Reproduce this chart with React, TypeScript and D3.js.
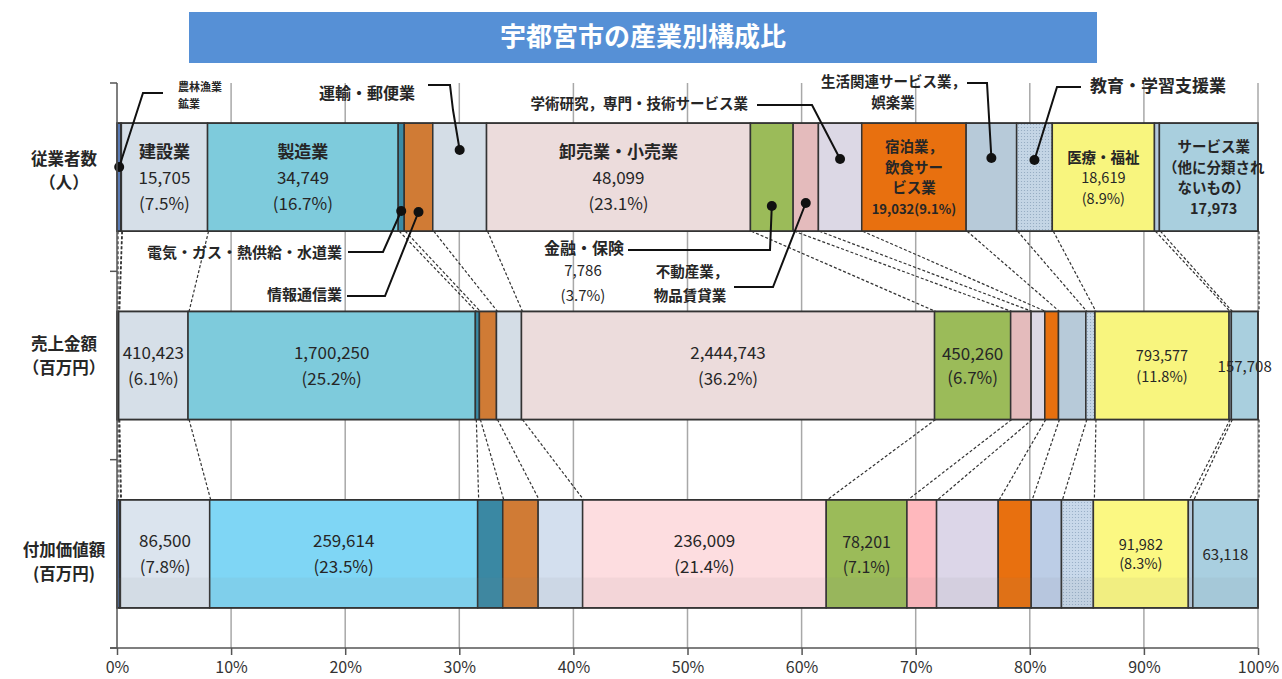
import { useEffect, useRef } from "react"
import * as d3 from "d3"

// industry categories (bar segment order, left to right)
const industries = [
  "農林漁業",
  "鉱業",
  "建設業",
  "製造業",
  "電気・ガス・熱供給・水道業",
  "情報通信業",
  "運輸業，郵便業",
  "卸売業，小売業",
  "金融業，保険業",
  "不動産業，物品賃貸業",
  "学術研究，専門・技術サービス業",
  "宿泊業，飲食サービス業",
  "生活関連サービス業，娯楽業",
  "教育，学習支援業",
  "医療，福祉",
  "複合サービス事業",
  "サービス業（他に分類されないもの）",
]

const rows = ["従業者数", "売上金額", "付加価値額"]
const rowUnits = ["（人）", "（百万円）", "(百万円)"]

// 従業者数（人）
const employees = [700, 100, 15705, 34749, 1100, 5200, 9800, 48099, 7786, 4600, 7900, 19032, 9200, 6500, 18619, 900, 17973]
// 売上金額（百万円）
const sales = [6000, 4000, 410423, 1700250, 24000, 101000, 148000, 2444743, 450260, 121000, 81000, 81000, 162000, 54000, 793577, 13500, 157708]
// 付加価値額（百万円）
const valueAdded = [2500, 800, 86500, 259614, 24300, 34300, 43100, 236009, 78201, 28700, 59700, 32000, 29300, 30900, 91982, 4400, 63118]

const xTicks = [0, 0.1, 0.2, 0.3, 0.4, 0.5, 0.6, 0.7, 0.8, 0.9, 1]

// printed shares
const employeeShares = { 2: "(7.5%)", 3: "(16.7%)", 7: "(23.1%)", 8: "(3.7%)", 11: "(9.1%)", 14: "(8.9%)" }
const salesShares = { 2: "(6.1%)", 3: "(25.2%)", 7: "(36.2%)", 8: "(6.7%)", 14: "(11.8%)" }
const valueShares = { 2: "(7.8%)", 3: "(23.5%)", 7: "(21.4%)", 8: "(7.1%)", 14: "(8.3%)" }

const colors = [
  "#5a7bb5", "#2d4a6d", "#d6dfe8", "#7ecbdc", "#3b8aa5", "#d07b35", "#d4dde6", "#ecdcdc",
  "#9bbb59", "#e4bbbc", "#dcd8e5", "#e8700f", "#b7cad9", "url(#dots)", "#f8f57e", "#b4c8dc", "#a9cfde",
]
const bottomColors = [
  "#5a7bb5", "#2d4a6d", "#dbe4ee", "#7fd6f5", "#3a88a3", "#d07b35", "#d3dfee", "#fddde0",
  "#9bbb59", "#ffb8bd", "#dcd6e8", "#e8700f", "#bccde6", "url(#dots2)", "#fbf882", "#b4c8dc", "#a9cfe0",
]

const W = 1282
const H = 679
const FONT = "'Noto Sans CJK JP', 'Noto Sans', sans-serif"
const fmt = d3.format(",")

const x = d3.scaleLinear().domain([0, 1]).range([117, 1258])
const y = d3.scaleBand<string>().domain(rows).range([83, 648]).paddingInner(0.426).paddingOuter(0.213)

const series = [employees, sales, valueAdded]
const segments = series.map((vals) => {
  const total = d3.sum(vals)
  let acc = 0
  return vals.map((v, i) => {
    const x0 = acc / total
    acc += v
    return { i, x0, x1: acc / total }
  })
})

type InLabel = { cat: number; lines: string[]; size: number; lh: number; bold: number; dx?: number }

const insideLabels: InLabel[][] = [
  [
    { cat: 2, lines: ["建設業", fmt(employees[2]), employeeShares[2]], size: 17, lh: 26, bold: 1 },
    { cat: 3, lines: ["製造業", fmt(employees[3]), employeeShares[3]], size: 17, lh: 26, bold: 1 },
    { cat: 7, lines: ["卸売業・小売業", fmt(employees[7]), employeeShares[7]], size: 17, lh: 26, bold: 1 },
    { cat: 11, lines: ["宿泊業，", "飲食サー", "ビス業", fmt(employees[11]) + employeeShares[11]], size: 14.5, lh: 20.7, bold: 4 },
    { cat: 14, lines: ["医療・福祉", fmt(employees[14]), employeeShares[14]], size: 14.5, lh: 20.5, bold: 1 },
    { cat: 16, lines: ["サービス業", "（他に分類され", "ないもの）", fmt(employees[16])], size: 14.5, lh: 20.7, bold: 4, dx: 5 },
  ],
  [
    { cat: 2, lines: [fmt(sales[2]), salesShares[2]], size: 17, lh: 26, bold: 0 },
    { cat: 3, lines: [fmt(sales[3]), salesShares[3]], size: 17, lh: 26, bold: 0 },
    { cat: 7, lines: [fmt(sales[7]), salesShares[7]], size: 17, lh: 26, bold: 0 },
    { cat: 8, lines: [fmt(sales[8]), salesShares[8]], size: 17, lh: 24, bold: 0 },
    { cat: 14, lines: [fmt(sales[14]), salesShares[14]], size: 14.5, lh: 21, bold: 0 },
    { cat: 16, lines: [fmt(sales[16])], size: 15, lh: 20, bold: 0 },
  ],
  [
    { cat: 2, lines: [fmt(valueAdded[2]), valueShares[2]], size: 17, lh: 26, bold: 0 },
    { cat: 3, lines: [fmt(valueAdded[3]), valueShares[3]], size: 17, lh: 26, bold: 0 },
    { cat: 7, lines: [fmt(valueAdded[7]), valueShares[7]], size: 17, lh: 26, bold: 0 },
    { cat: 8, lines: [fmt(valueAdded[8]), valueShares[8]], size: 16, lh: 25, bold: 0 },
    { cat: 14, lines: [fmt(valueAdded[14]), valueShares[14]], size: 14.5, lh: 19, bold: 0 },
    { cat: 16, lines: [fmt(valueAdded[16])], size: 15, lh: 20, bold: 0 },
  ],
]

// callouts pointing into the 従業者数 bar
type Callout = {
  cats: number[]
  dotY: number
  path: [number, number][]
  texts: { t: string; x: number; y: number; anchor: string; bold?: boolean }[]
  size: number
}
const callouts: Callout[] = [
  {
    cats: [0, 1], dotY: 167, path: [[163, 93], [143, 93]], size: 11,
    texts: [{ t: "農林漁業", x: 178, y: 88, anchor: "start" }, { t: "鉱業", x: 178, y: 105, anchor: "start" }],
  },
  {
    cats: [6], dotY: 150, path: [[428, 85], [450, 85], [453, 110]], size: 16,
    texts: [{ t: "運輸・郵便業", x: 415, y: 95, anchor: "end" }],
  },
  {
    cats: [4], dotY: 211, path: [[348, 252], [383, 252]], size: 15,
    texts: [{ t: "電気・ガス・熱供給・水道業", x: 342, y: 254, anchor: "end" }],
  },
  {
    cats: [5], dotY: 212, path: [[347, 296], [385, 296]], size: 15,
    texts: [{ t: "情報通信業", x: 342, y: 296, anchor: "end" }],
  },
  {
    cats: [10], dotY: 159, path: [[757, 105], [812, 105]], size: 14.5,
    texts: [{ t: "学術研究，専門・技術サービス業", x: 748, y: 105, anchor: "end" }],
  },
  {
    cats: [8], dotY: 206, path: [[628, 250], [770, 250]], size: 16,
    texts: [
      { t: "金融・保険", x: 624, y: 250, anchor: "end" },
      { t: fmt(employees[8]), x: 583, y: 272, anchor: "middle", bold: false },
      { t: employeeShares[8], x: 583, y: 297, anchor: "middle", bold: false },
    ],
  },
  {
    cats: [9], dotY: 203, path: [[734, 287], [773, 287]], size: 14.5,
    texts: [
      { t: "不動産業，", x: 692, y: 273, anchor: "middle" },
      { t: "物品賃貸業", x: 690, y: 297, anchor: "middle" },
    ],
  },
  {
    cats: [12], dotY: 158, path: [[967, 83], [987, 83]], size: 14.5,
    texts: [
      { t: "生活関連サービス業，", x: 966, y: 83, anchor: "end" },
      { t: "娯楽業", x: 893, y: 104, anchor: "middle" },
    ],
  },
  {
    cats: [13], dotY: 160, path: [[1081, 87], [1057, 87]], size: 17,
    texts: [{ t: "教育・学習支援業", x: 1090, y: 87, anchor: "start" }],
  },
]

const rowLabelShift = [-5, -8, 10]

export default function App() {
  const xAxisRef = useRef<SVGGElement>(null)

  useEffect(() => {
    if (!xAxisRef.current) return
    const g = d3.select(xAxisRef.current)
    g.selectAll("*").remove()
    g.call(
      d3
        .axisBottom(x)
        .tickValues(xTicks)
        .tickSize(7)
        .tickSizeOuter(0)
        .tickPadding(7)
        .tickFormat(d3.format(".0%")),
    )
    g.select(".domain").remove()
    g.selectAll(".tick line").attr("stroke", "#555").attr("stroke-width", 1.5)
    g.selectAll("text").attr("font-size", 16).attr("fill", "#333").attr("font-family", FONT)
  }, [])

  const bw = y.bandwidth()
  const step = y.step()
  const bandEdges = d3.range(4).map((k) => 83 + k * step)

  return (
    <svg width={W} height={H} style={{ position: "absolute", left: 0, top: 0, background: "#fff" }} fontFamily={FONT}>
      <defs>
        <pattern id="dots" width="3" height="3" patternUnits="userSpaceOnUse">
          <rect width="3" height="3" fill="#c4d5e5" />
          <circle cx="1.5" cy="1.5" r="0.6" fill="#8fa6bd" />
        </pattern>
        <pattern id="dots2" width="3" height="3" patternUnits="userSpaceOnUse">
          <rect width="3" height="3" fill="#c8d8ea" />
          <circle cx="1.5" cy="1.5" r="0.6" fill="#92a9c2" />
        </pattern>
      </defs>

      {/* title banner */}
      <rect x={189} y={12} width={908} height={51} fill="#5690d6" />
      <text x={643} y={39} textAnchor="middle" dominantBaseline="middle" fontSize={26} fontWeight={700} fill="#fff">
        宇都宮市の産業別構成比
      </text>

      {/* grid */}
      {xTicks.slice(1).map((t) => (
        <line key={t} x1={x(t)} x2={x(t)} y1={83} y2={648} stroke="#a8a8a8" strokeWidth={1.5} />
      ))}

      {/* dashed connectors between bars */}
      {[0, 1].map((r) => {
        const yb = (y(rows[r]) ?? 0) + bw
        const yt = y(rows[r + 1]) ?? 0
        const edges = [0, ...segments[r].map((s) => s.x1)]
        const edgesNext = [0, ...segments[r + 1].map((s) => s.x1)]
        return edges.map((e, k) => (
          <line
            key={`c${r}-${k}`}
            x1={x(e) + 1}
            x2={x(edgesNext[k]) + 1}
            y1={yb}
            y2={yt}
            stroke="#333"
            strokeWidth={1.2}
            strokeDasharray="3 2"
          />
        ))
      })}

      {/* bars */}
      {rows.map((row, r) => {
        const y0 = y(row) ?? 0
        const pal = r === 2 ? bottomColors : colors
        return (
          <g key={row}>
            {segments[r].map((s) => (
              <rect
                key={s.i}
                x={x(s.x0)}
                y={y0}
                width={x(s.x1) - x(s.x0)}
                height={bw}
                fill={pal[s.i]}
                stroke="#333"
                strokeWidth={1.5}
              />
            ))}
            {r === 2 && (
              <rect x={x(0)} y={y0 + bw * 0.72} width={x(1) - x(0)} height={bw * 0.28} fill="#808080" opacity={0.08} />
            )}
            <rect x={x(0)} y={y0} width={x(1) - x(0)} height={bw} fill="none" stroke="#333" strokeWidth={1.5} />
            {insideLabels[r].map((lab) => {
              const s = segments[r][lab.cat]
              const cx = (x(s.x0) + x(s.x1)) / 2 + (lab.dx ?? 0)
              const cy = y0 + bw / 2 + 2
              const n = lab.lines.length
              return lab.lines.map((t, li) => (
                <text
                  key={`${lab.cat}-${li}`}
                  x={cx}
                  y={cy + (li - (n - 1) / 2) * lab.lh}
                  textAnchor="middle"
                  dominantBaseline="middle"
                  fontSize={lab.cat === 11 && li === 3 ? 13 : lab.size}
                  fontWeight={li < lab.bold ? 700 : 400}
                  fill="#262626"
                >
                  {t}
                </text>
              ))
            })}
            {/* row label */}
            <text x={64} y={y0 + bw / 2 - 12 + rowLabelShift[r]} textAnchor="middle" dominantBaseline="middle" fontSize={16.5} fontWeight={700} fill="#262626">
              {row}
            </text>
            <text x={64} y={y0 + bw / 2 + 12 + rowLabelShift[r]} textAnchor="middle" dominantBaseline="middle" fontSize={16.5} fontWeight={700} fill="#262626">
              {rowUnits[r]}
            </text>
          </g>
        )
      })}

      {/* callouts */}
      {callouts.map((c, k) => {
        const s0 = segments[0][c.cats[0]]
        const s1 = segments[0][c.cats[c.cats.length - 1]]
        const dx = (x(s0.x0) + x(s1.x1)) / 2
        const pts: [number, number][] = [...c.path, [dx, c.dotY]]
        return (
          <g key={`co${k}`}>
            <path d={d3.line()(pts) ?? ""} fill="none" stroke="#111" strokeWidth={2} />
            <circle cx={dx} cy={c.dotY} r={5} fill="#111" />
            {c.texts.map((t, ti) => (
              <text
                key={ti}
                x={t.x}
                y={t.y}
                textAnchor={t.anchor as "start" | "middle" | "end"}
                dominantBaseline="middle"
                fontSize={t.bold === false ? 15 : c.size}
                fontWeight={t.bold === false ? 400 : 700}
                fill="#262626"
              >
                {t.t}
              </text>
            ))}
          </g>
        )
      })}

      {/* axes */}
      <line x1={117} x2={117} y1={83} y2={648} stroke="#555" strokeWidth={1.5} />
      {bandEdges.map((e) => (
        <line key={e} x1={110} x2={117} y1={e} y2={e} stroke="#555" strokeWidth={1.5} />
      ))}
      <line x1={110} x2={1258} y1={648} y2={648} stroke="#555" strokeWidth={1.5} />
      <g ref={xAxisRef} transform="translate(0,648)" />
    </svg>
  )
}
